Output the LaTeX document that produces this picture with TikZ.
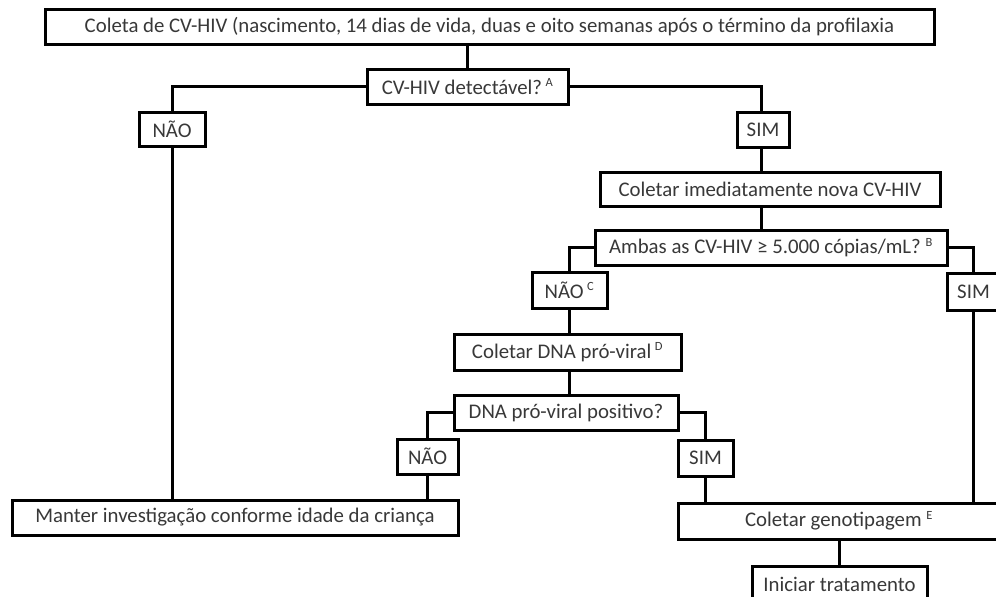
\documentclass[tikz,border=0pt]{standalone}
\usepackage{fontspec}
\setmainfont{Carlito}
\begin{document}
\begin{tikzpicture}[x=1pt,y=-1pt,
  box/.style={draw=black,line width=3pt,fill=white,inner sep=0pt,text=black!78,font=\fontsize{20.8}{22}\selectfont},
  conn/.style={draw=black,line width=3pt}]
\useasboundingbox[fill=white] (0,0) rectangle (996,597);
\newcommand{\sups}[1]{\textsuperscript{\fontsize{12.5}{13}\selectfont #1}}
\node[box,minimum width=889pt,minimum height=35pt] (top) at (489.5,26.5) {Coleta de CV-HIV (nascimento, 14 dias de vida, duas e oito semanas após o término da profilaxia};
\node[box,minimum width=201pt,minimum height=35pt] (cv) at (467.5,86.5) {CV-HIV detectável?\,\sups{A}};
\node[box,minimum width=66pt,minimum height=34pt] (nao1) at (172,129) {NÃO};
\node[box,minimum width=52pt,minimum height=35pt] (sim1) at (763,129.5) {SIM};
\node[box,minimum width=340pt,minimum height=34pt] (col) at (770,189) {Coletar imediatamente nova CV-HIV};
\node[box,minimum width=352pt,minimum height=35pt] (ambas) at (771,247.5) {Ambas as CV-HIV ≥ 5.000 cópias/mL? \sups{B}};
\node[box,minimum width=75pt,minimum height=36pt] (naoc) at (569.5,290) {NÃO\,\sups{C}};
\node[box,minimum width=53pt,minimum height=37pt] (sim2) at (973.5,291.5) {SIM};
\node[box,minimum width=227pt,minimum height=36pt] (dna) at (567.5,352) {Coletar DNA pró-viral\,\sups{D}};
\node[box,minimum width=224pt,minimum height=35pt] (dnapos) at (566,412.5) {DNA pró-viral positivo?};
\node[box,minimum width=61pt,minimum height=35pt] (nao3) at (427.5,456.5) {NÃO};
\node[box,minimum width=55pt,minimum height=36pt] (sim3) at (705.5,458) {SIM};
\node[box,minimum width=446pt,minimum height=35pt] (manter) at (235,517.5) {Manter investigação conforme idade da criança};
\node[box,minimum width=322pt,minimum height=36pt] (geno) at (839,521) {Coletar genotipagem \sups{E}};
\node[box,minimum width=175pt,minimum height=36pt] (ini) at (839.5,584) {Iniciar tratamento};
\draw[conn] (cv.north |- top.south) -- (cv.north);
\draw[conn] (cv.west) -| (nao1.north);
\draw[conn] (cv.east) -| ([xshift=-2pt]sim1.north);
\draw[conn] ([xshift=-2pt]sim1.south) -- ([xshift=-2pt]sim1.south |- col.north);
\draw[conn] ([xshift=-2pt]sim1.south |- col.south) -- ([xshift=-2pt]sim1.south |- ambas.north);
\draw[conn] (ambas.west) -| (naoc.north);
\draw[conn] (ambas.east) -| (sim2.north);
\draw[conn] (naoc.south) -- (naoc.south |- dna.north);
\draw[conn] (naoc.south |- dna.south) -- (naoc.south |- dnapos.north);
\draw[conn] (dnapos.west) -| (nao3.north);
\draw[conn] (dnapos.east) -| (sim3.north);
\draw[conn] (nao3.south) -- (nao3.south |- manter.north);
\draw[conn] (nao1.south) -- (nao1.south |- manter.north);
\draw[conn] (sim3.south) -- (sim3.south |- geno.north);
\draw[conn] (sim2.south) -- (sim2.south |- geno.north);
\draw[conn] (geno.south) -- (geno.south |- ini.north);
\end{tikzpicture}
\end{document}
